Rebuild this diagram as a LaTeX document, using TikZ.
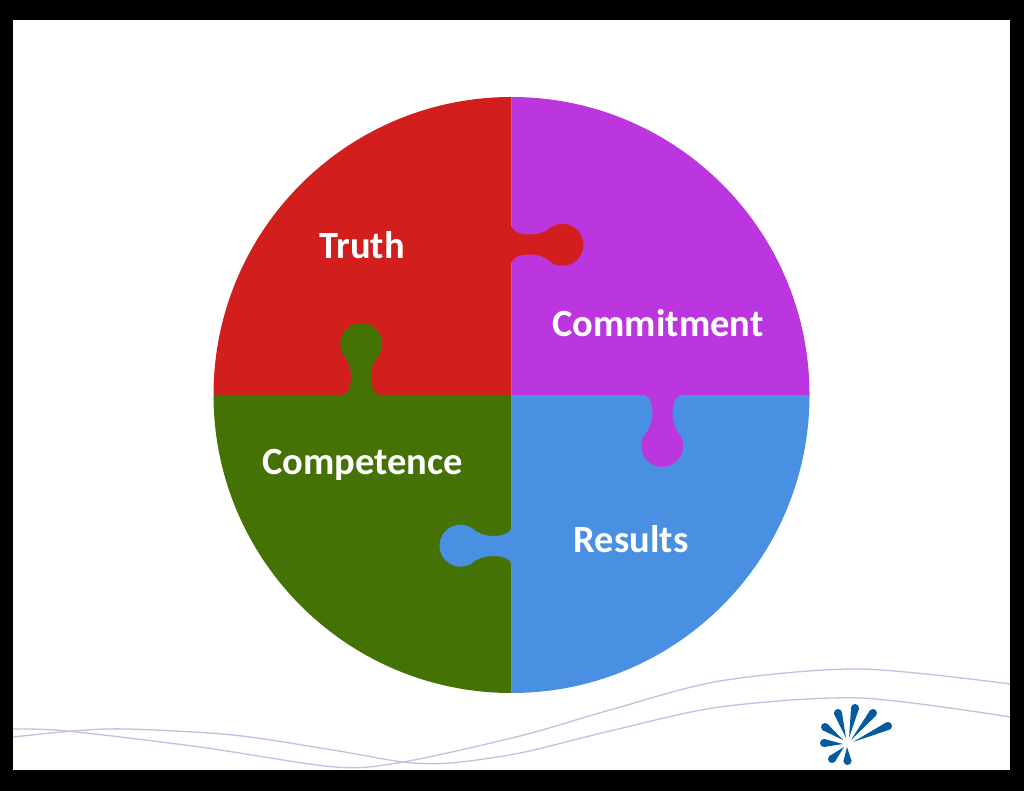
\documentclass[tikz,border=0pt]{standalone}
\usepackage{xcolor}
\usepackage{fontspec}
\setmainfont{Carlito}
\usepackage{tikz}
\usetikzlibrary{calc}

\definecolor{truthred}{HTML}{D21E1C}
\definecolor{commitpurple}{HTML}{BC36E0}
\definecolor{competegreen}{HTML}{447204}
\definecolor{resultblue}{HTML}{4A90E2}
\definecolor{waveline}{HTML}{C6BEDF}
\definecolor{logoblue}{HTML}{065A9E}

% puzzle tab: base point, direction, colour
\newcommand{\puzzletab}[4]{
  \begin{scope}[shift={(#1,#2)},rotate=#3]
    \fill[#4] (-1,-18) -- (0,-18) .. controls (2,-12) and (10,-10) .. (19,-10)
      .. controls (26,-10) and (31,-12) .. (36,-15)
      arc[start angle=-135.5,end angle=135.5,radius=21]
      .. controls (31,12) and (26,10) .. (19,10)
      .. controls (10,10) and (2,12) .. (0,18) -- (-1,18) -- cycle;
  \end{scope}
}

\begin{document}
\begin{tikzpicture}[x=1pt,y=1pt,
                    main label/.style={text=white,font=\fontsize{38.5}{42}\selectfont\bfseries,inner sep=0pt,anchor=base},
                    wave/.style={draw=waveline,line width=1.3pt}]

  \useasboundingbox (0,0) rectangle (1024,791);
  \fill[black] (0,0) rectangle (1024,791);
  \fill[white] (13,21) rectangle (1010,771);

  \coordinate (center) at (511.5,396);

  % quarters
  \fill[truthred] (center) -- ++(0,298) arc[start angle=90,end angle=180,radius=298] -- cycle;
  \fill[competegreen] (center) -- ++(-298,0) arc[start angle=180,end angle=270,radius=298] -- cycle;
  \fill[resultblue] (center) -- ++(0,-298) arc[start angle=270,end angle=360,radius=298] -- cycle;
  \fill[commitpurple] (center) -- ++(298,0) arc[start angle=0,end angle=90,radius=298] -- cycle;

  % tabs
  \puzzletab{511.5}{546.5}{0}{truthred}
  \puzzletab{361}{396}{90}{competegreen}
  \puzzletab{662.5}{396}{-90}{commitpurple}
  \puzzletab{511.5}{245}{180}{resultblue}

  \node[main label] (truth) at (362,532) {Truth};
  \node[main label] (commitment) at (658,454) {Commitment};
  \node[main label] (competence) at (362.5,316.5) {Competence};
  \node[main label] (results) at (631,238.5) {Results};

  % waves
  \draw[wave] plot[smooth] coordinates {(13,62) (67,60) (200,44) (335,24) (403,29)
    (520,55) (610,81) (720,110) (860,122) (1010,107)};
  \draw[wave] plot[smooth] coordinates {(13,54) (73,60) (127,62) (233,56) (333,41) (403,29)
    (450,28) (520,38) (610,60) (720,84) (860,93) (1010,74)};

  % logo
  \foreach \hx/\hy/\tx/\ty in {838/78/846/53, 855/83/849/53, 873/78/851/51, 888/65/853/49,
                               825/64/843/51, 824/48/843/47, 832/32/844/44, 847.5/30/847/44}{
    \fill[logoblue] (\hx,\hy) circle (4);
    \fill[logoblue] (\tx,\ty) -- ($(\hx,\hy)!4pt!90:(\tx,\ty)$) -- ($(\hx,\hy)!4pt!-90:(\tx,\ty)$) -- cycle;
  }

\end{tikzpicture}
\end{document}
